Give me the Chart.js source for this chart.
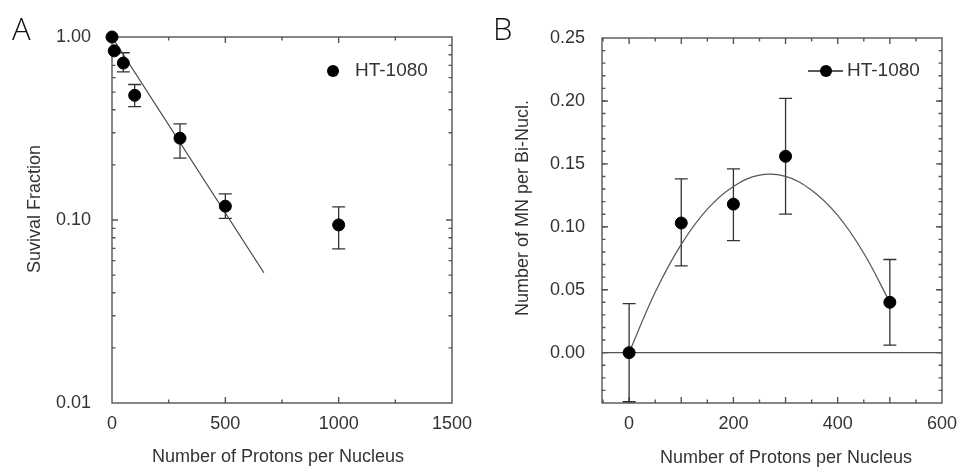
<!DOCTYPE html>
<html>
<head>
<meta charset="utf-8">
<script src="https://cdn.jsdelivr.net/npm/chart.js@4/dist/chart.umd.min.js"></script>
<style>
  body { margin: 0; background: #fff; width: 965px; height: 472px; position: relative; overflow: hidden; }
  canvas { position: absolute; top: 0; }
</style>
</head>
<body>
<canvas id="survival" width="480" height="472" style="left:0"></canvas>
<canvas id="micronuclei" width="485" height="472" style="left:480px"></canvas>
<script>
// Panel A - survival fraction (log scale)
const A_DOSE = [0, 10, 50, 100, 300, 500, 1000];
const A_SURV = [1.00, 0.84, 0.72, 0.48, 0.28, 0.119, 0.094];
const A_ERR_HI = [null, null, 0.82, 0.55, 0.335, 0.139, 0.118];
const A_ERR_LO = [null, null, 0.645, 0.416, 0.218, 0.102, 0.0695];
const A_FIT_X = [0, 670];
const A_FIT_Y = [1.0, 0.0515];
const A_XTICKS = [0, 500, 1000, 1500];
const A_YTICKS = [0.01, 0.1, 1];

// Panel B - micronuclei per binucleated cell
const B_DOSE = [0, 100, 200, 300, 500];
const B_MN = [0, 0.103, 0.118, 0.156, 0.040];
const B_ERR_HI = [0.039, 0.138, 0.146, 0.202, 0.074];
const B_ERR_LO = [-0.039, 0.069, 0.089, 0.110, 0.006];
const B_FIT_X = [0, 50, 100, 150, 200, 250, 300, 350, 400, 450, 500];
const B_FIT_Y = [0, 0.048, 0.086, 0.114, 0.132, 0.141, 0.140, 0.129, 0.109, 0.079, 0.040];
const B_XTICKS = [0, 200, 400, 600];
const B_YTICKS = [0, 0.05, 0.10, 0.15, 0.20, 0.25];

const FONT = '"Liberation Sans", Arial, sans-serif';
const AXIS = '#555';
const TEXT = '#333';

function range(a, b, step) {
    const out = [];
    for (let v = a; v <= b + step / 1000; v += step) out.push(+v.toFixed(6));
    return out;
}

// frame, inward ticks, error bars, titles and legend
function panelPlugin(cfg) {
    return {
        id: 'panel',
        beforeDatasetsDraw(chart) {
            const { ctx, chartArea: ca, scales: { x, y } } = chart;
            ctx.save();
            ctx.strokeStyle = AXIS;
            ctx.lineWidth = 1.4;
            ctx.strokeRect(ca.left, ca.top, ca.right - ca.left, ca.bottom - ca.top);

            const tick = (vals, len, isX) => vals.forEach(v => {
                ctx.beginPath();
                if (isX) {
                    const p = x.getPixelForValue(v);
                    if (p < ca.left + 1 || p > ca.right - 1) return;
                    ctx.moveTo(p, ca.bottom); ctx.lineTo(p, ca.bottom - len);
                    ctx.moveTo(p, ca.top); ctx.lineTo(p, ca.top + len);
                } else {
                    const p = y.getPixelForValue(v);
                    if (p < ca.top + 1 || p > ca.bottom - 1) return;
                    ctx.moveTo(ca.left, p); ctx.lineTo(ca.left + len, p);
                    ctx.moveTo(ca.right, p); ctx.lineTo(ca.right - len, p);
                }
                ctx.stroke();
            });
            tick(cfg.xMajor, 6, true);
            tick(cfg.xMinor, 3.5, true);
            tick(cfg.yMajor, 6, false);
            tick(cfg.yMinor, 3.5, false);

            if (cfg.zeroLine) {
                const p = y.getPixelForValue(0);
                ctx.beginPath();
                ctx.moveTo(ca.left, p); ctx.lineTo(ca.right, p);
                ctx.stroke();
            }

            // error bars
            ctx.strokeStyle = '#333';
            ctx.lineWidth = 1.3;
            cfg.dose.forEach((d, i) => {
                if (cfg.hi[i] == null) return;
                const px = x.getPixelForValue(d);
                const top = y.getPixelForValue(cfg.hi[i]);
                const bot = y.getPixelForValue(cfg.lo[i]);
                ctx.beginPath();
                ctx.moveTo(px, top); ctx.lineTo(px, bot);
                ctx.moveTo(px - 6.5, top); ctx.lineTo(px + 6.5, top);
                ctx.moveTo(px - 6.5, bot); ctx.lineTo(px + 6.5, bot);
                ctx.stroke();
            });
            ctx.restore();
        },
        afterDraw(chart) {
            const { ctx } = chart;
            ctx.save();
            ctx.fillStyle = TEXT;
            ctx.font = '18px ' + FONT;
            ctx.textAlign = 'center';
            ctx.textBaseline = 'middle';
            ctx.fillText(cfg.xTitle, cfg.xTitlePos[0], cfg.xTitlePos[1]);
            ctx.save();
            ctx.translate(cfg.yTitlePos[0], cfg.yTitlePos[1]);
            ctx.rotate(-Math.PI / 2);
            ctx.fillText(cfg.yTitle, 0, 0);
            ctx.restore();

            // legend
            const [lx, ly] = cfg.legendPos;
            ctx.fillStyle = '#000';
            ctx.strokeStyle = '#222';
            ctx.lineWidth = 1.3;
            if (cfg.legendLine) {
                ctx.beginPath();
                ctx.moveTo(lx - 18, ly); ctx.lineTo(lx + 17, ly);
                ctx.stroke();
            }
            ctx.beginPath();
            ctx.arc(lx, ly, 6, 0, Math.PI * 2);
            ctx.fill();
            ctx.fillStyle = TEXT;
            ctx.font = '19px ' + FONT;
            ctx.textAlign = 'left';
            ctx.fillText('HT-1080', cfg.legendTextX, ly);

            // panel letter
            ctx.fillStyle = '#111';
            ctx.font = '300 31px "Open Sans", sans-serif';
            ctx.textBaseline = 'alphabetic';
            ctx.fillText(cfg.letter, cfg.letterPos[0], cfg.letterPos[1]);
            ctx.restore();
        }
    };
}

function tickFont() {
    return { family: FONT, size: 18 };
}

new Chart(document.getElementById('survival'), {
    type: 'scatter',
    data: {
        datasets: [
            {
                label: 'fit',
                data: A_FIT_X.map((v, i) => ({ x: v, y: A_FIT_Y[i] })),
                showLine: true, borderColor: '#444', borderWidth: 1.2, pointRadius: 0, order: 2
            },
            {
                label: 'HT-1080',
                data: A_DOSE.map((v, i) => ({ x: v, y: A_SURV[i] })),
                pointRadius: 6, backgroundColor: '#000', borderColor: '#000', clip: false, order: 1
            }
        ]
    },
    options: {
        responsive: false, animation: false,
        layout: { autoPadding: false, padding: { left: 0, right: 28, top: 37, bottom: 0 } },
        plugins: { legend: { display: false }, tooltip: { enabled: false } },
        scales: {
            x: {
                type: 'linear', min: 0, max: 1500,
                grid: { display: false }, border: { display: false },
                afterBuildTicks: s => { s.ticks = A_XTICKS.map(v => ({ value: v })); },
                afterFit: s => { s.height = 69; },
                ticks: { padding: 2, color: TEXT, font: tickFont(), maxRotation: 0, callback: v => String(v) }
            },
            y: {
                type: 'logarithmic', min: 0.01, max: 1,
                grid: { display: false }, border: { display: false },
                afterBuildTicks: s => { s.ticks = A_YTICKS.map(v => ({ value: v })); },
                afterFit: s => { s.width = 112; },
                ticks: { padding: 13, color: TEXT, font: tickFont(), callback: v => v.toFixed(2) }
            }
        }
    },
    plugins: [panelPlugin({
        dose: A_DOSE, hi: A_ERR_HI, lo: A_ERR_LO,
        xMajor: A_XTICKS, xMinor: [250, 750, 1250],
        yMajor: A_YTICKS,
        yMinor: range(0.02, 0.09, 0.01).concat(range(0.2, 0.9, 0.1)),
        xTitle: 'Number of Protons per Nucleus', xTitlePos: [278, 457],
        yTitle: 'Suvival Fraction', yTitlePos: [35, 209],
        legendPos: [333, 71], legendTextX: 355, legendLine: false,
        letter: 'A', letterPos: [12, 40]
    })]
});

new Chart(document.getElementById('micronuclei'), {
    type: 'scatter',
    data: {
        datasets: [
            {
                label: 'fit',
                data: B_FIT_X.map((v, i) => ({ x: v, y: B_FIT_Y[i] })),
                showLine: true, borderColor: '#555', borderWidth: 1.2, pointRadius: 0, tension: 0.4, order: 2
            },
            {
                label: 'HT-1080',
                data: B_DOSE.map((v, i) => ({ x: v, y: B_MN[i] })),
                pointRadius: 6, backgroundColor: '#000', borderColor: '#000', clip: false, order: 1
            }
        ]
    },
    options: {
        responsive: false, animation: false,
        layout: { autoPadding: false, padding: { left: 0, right: 23, top: 38, bottom: 0 } },
        plugins: { legend: { display: false }, tooltip: { enabled: false } },
        scales: {
            x: {
                type: 'linear', min: -52, max: 600,
                grid: { display: false }, border: { display: false },
                afterBuildTicks: s => { s.ticks = B_XTICKS.map(v => ({ value: v })); },
                afterFit: s => { s.height = 69; },
                ticks: { padding: 2, color: TEXT, font: tickFont(), maxRotation: 0, callback: v => String(v) }
            },
            y: {
                type: 'linear', min: -0.04, max: 0.25,
                grid: { display: false }, border: { display: false },
                afterBuildTicks: s => { s.ticks = B_YTICKS.map(v => ({ value: v })); },
                afterFit: s => { s.width = 122; },
                ticks: { padding: 9, color: TEXT, font: tickFont(), callback: v => v.toFixed(2) }
            }
        }
    },
    plugins: [panelPlugin({
        dose: B_DOSE, hi: B_ERR_HI, lo: B_ERR_LO,
        xMajor: range(0, 600, 100), xMinor: range(-50, 550, 100),
        yMajor: range(-0.05, 0.25, 0.05), yMinor: range(-0.04, 0.24, 0.01),
        zeroLine: true,
        xTitle: 'Number of Protons per Nucleus', xTitlePos: [306, 458],
        yTitle: 'Number of MN per Bi-Nucl.', yTitlePos: [43, 208],
        legendPos: [346, 71], legendTextX: 367, legendLine: true,
        letter: 'B', letterPos: [13, 40]
    })]
});
</script>
</body>
</html>
